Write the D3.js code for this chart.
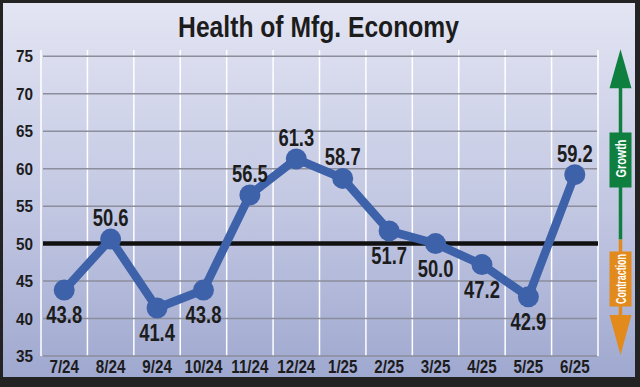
<!DOCTYPE html>
<html>
<head>
<meta charset="utf-8">
<script src="https://cdn.jsdelivr.net/npm/d3@7"></script>
<style>
  html, body { margin: 0; padding: 0; background: #222; }
  svg { display: block; }
  text { font-family: "Liberation Sans", Arial, Helvetica, sans-serif; font-weight: bold; }
</style>
</head>
<body>
<svg id="chart" width="640" height="387"></svg>
<script>
// Chart data
const months = ['7/24', '8/24', '9/24', '10/24', '11/24', '12/24', '1/25', '2/25', '3/25', '4/25', '5/25', '6/25'];
const pmiValues = [43.8, 50.6, 41.4, 43.8, 56.5, 61.3, 58.7, 51.7, 50.0, 47.2, 42.9, 59.2];
const labelAbove = [false, true, false, false, true, true, true, false, false, false, false, true];
const yTicks = [35, 40, 45, 50, 55, 60, 65, 70, 75];
const threshold = 50;
const title = 'Health of Mfg. Economy';

const COLORS = {
    line: '#3d62aa',
    grid: '#8c8e9c',
    text: '#1c1c1c',
    growth: '#0e7f3f',
    contraction: '#e28a1c'
};

const NARROW = 0.8; // horizontal squeeze to mimic a condensed face

const svg = d3.select('#chart');

// Background panel with vertical gradient
const defs = svg.append('defs');
const grad = defs.append('linearGradient')
    .attr('id', 'bg').attr('x1', 0).attr('y1', 0).attr('x2', 0).attr('y2', 1);
grad.append('stop').attr('offset', '0%').attr('stop-color', '#e3e5f3');
grad.append('stop').attr('offset', '55%').attr('stop-color', '#c2c7e2');
grad.append('stop').attr('offset', '100%').attr('stop-color', '#9fa8cf');

svg.append('rect').attr('width', 640).attr('height', 387).attr('fill', '#232323');
svg.append('rect')
    .attr('x', 3).attr('y', 3)
    .attr('width', 632).attr('height', 374)
    .attr('fill', 'url(#bg)');

// Scales
const xScale = d3.scaleBand().domain(months).range([41, 598]);
const yScale = d3.scaleLinear().domain([35, 75]).range([356, 56.3]);
const cx = d => xScale(d) + xScale.bandwidth() / 2;

// Vertical white separators
const bounds = months.map(m => xScale(m)).concat([xScale.range()[1]]);
svg.append('g').selectAll('line')
    .data(bounds)
    .enter().append('line')
    .attr('x1', d => d).attr('x2', d => d)
    .attr('y1', 50).attr('y2', yScale(35))
    .attr('stroke', '#ffffff')
    .attr('stroke-width', 1.5);

// Horizontal grid lines
svg.append('g').selectAll('line')
    .data(yTicks)
    .enter().append('line')
    .attr('x1', 43).attr('x2', 597)
    .attr('y1', d => yScale(d)).attr('y2', d => yScale(d))
    .attr('stroke', COLORS.grid)
    .attr('stroke-width', 1.5);

// Threshold line at 50
svg.append('line')
    .attr('x1', 43).attr('x2', 598)
    .attr('y1', yScale(threshold)).attr('y2', yScale(threshold))
    .attr('stroke', '#111')
    .attr('stroke-width', 4.5);

// Y axis labels
svg.append('g').selectAll('text')
    .data(yTicks)
    .enter().append('text')
    .attr('transform', d => `translate(33, ${yScale(d)}) scale(0.9, 1)`)
    .attr('dy', '0.36em')
    .attr('text-anchor', 'end')
    .attr('font-size', 17)
    .attr('fill', COLORS.text)
    .text(d => d);

// X axis labels
svg.append('g').selectAll('text')
    .data(months)
    .enter().append('text')
    .attr('transform', d => `translate(${cx(d)}, 373) scale(${NARROW}, 1)`)
    .attr('text-anchor', 'middle')
    .attr('font-size', 19)
    .attr('fill', COLORS.text)
    .text(d => d);

// Title, squeezed to the reference width
const titleText = svg.append('text')
    .attr('text-anchor', 'middle')
    .attr('font-size', 29)
    .attr('fill', COLORS.text)
    .text(title);
const titleW = titleText.node().getComputedTextLength();
titleText.attr('transform', `translate(318.5, 37) scale(${281 / titleW}, 1)`);

// Data line + points
const data = months.map((m, i) => ({ month: m, value: pmiValues[i], above: labelAbove[i] }));

const lineGenerator = d3.line()
    .x(d => cx(d.month))
    .y(d => yScale(d.value));

svg.append('path')
    .datum(data)
    .attr('fill', 'none')
    .attr('stroke', COLORS.line)
    .attr('stroke-width', 8.5)
    .attr('stroke-linejoin', 'round')
    .attr('d', lineGenerator);

svg.append('g').selectAll('circle')
    .data(data)
    .enter().append('circle')
    .attr('cx', d => cx(d.month))
    .attr('cy', d => yScale(d.value))
    .attr('r', 10.5)
    .attr('fill', COLORS.line);

// Value labels
svg.append('g').selectAll('text')
    .data(data)
    .enter().append('text')
    .attr('transform', d => `translate(${cx(d.month)}, ${yScale(d.value) + (d.above ? -13 : 33)}) scale(${NARROW}, 1)`)
    .attr('text-anchor', 'middle')
    .attr('font-size', 23)
    .attr('fill', COLORS.text)
    .text(d => d.value.toFixed(1));

// Growth / contraction arrow on the right
const ax = 620.5;
const arrow = svg.append('g');
const yTop = yScale(75) - 7, yMid = yScale(threshold), yBot = yScale(35) - 1;

function boxLabel(label, yc, len, size) {
    const t = arrow.append('text')
        .attr('text-anchor', 'middle')
        .attr('font-size', size)
        .attr('fill', '#ffffff')
        .text(label);
    const w = t.node().getComputedTextLength();
    t.attr('transform', `translate(${ax + 5}, ${yc}) rotate(-90) scale(${len / w}, 1)`);
}

arrow.append('line')
    .attr('x1', ax).attr('x2', ax)
    .attr('y1', yTop + 30).attr('y2', yMid - 4)
    .attr('stroke', COLORS.growth).attr('stroke-width', 3.5);
arrow.append('path')
    .attr('d', `M${ax},${yTop} L${ax + 11},${yTop + 39} L${ax - 11},${yTop + 39} Z`)
    .attr('fill', COLORS.growth);
arrow.append('rect')
    .attr('x', ax - 11).attr('y', 132.5)
    .attr('width', 22).attr('height', 55)
    .attr('fill', COLORS.growth);
boxLabel('Growth', 158.5, 38, 15);

arrow.append('line')
    .attr('x1', ax).attr('x2', ax)
    .attr('y1', yMid - 4).attr('y2', yBot - 30)
    .attr('stroke', COLORS.contraction).attr('stroke-width', 3.5);
arrow.append('path')
    .attr('d', `M${ax},${yBot} L${ax + 11},${yBot - 40} L${ax - 11},${yBot - 40} Z`)
    .attr('fill', COLORS.contraction);
arrow.append('rect')
    .attr('x', ax - 11).attr('y', 251.5)
    .attr('width', 22).attr('height', 55)
    .attr('fill', COLORS.contraction);
boxLabel('Contraction', 279, 50, 15);
</script>
</body>
</html>
